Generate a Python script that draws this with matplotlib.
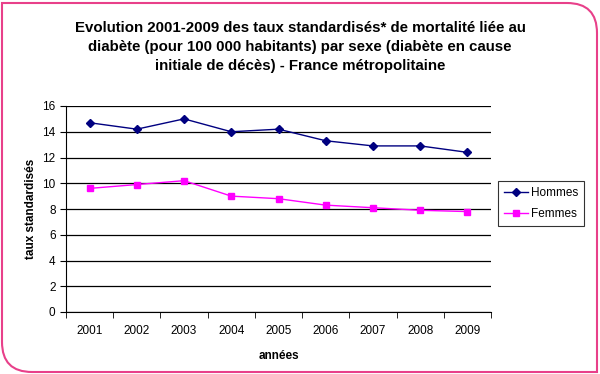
import matplotlib.pyplot as plt
from matplotlib.path import Path
from matplotlib.patches import PathPatch

# data
annees = ['2001', '2002', '2003', '2004', '2005', '2006', '2007', '2008', '2009']
hommes = [14.7, 14.2, 15.0, 14.0, 14.2, 13.3, 12.9, 12.9, 12.4]
femmes = [9.6, 9.9, 10.2, 9.0, 8.8, 8.3, 8.1, 7.9, 7.8]

plt.rcParams['font.family'] = ['Liberation Sans', 'DejaVu Sans']

fig = plt.figure(figsize=(6, 3.74), dpi=100)
ax = fig.add_axes([66/600, 1-312/374, 425/600, 206/374])

# pink frame, rounded top-right and bottom-left corners
x0, y0, x1, y1 = 2/600, 2/374, 597/600, 371/374
rx, ry = 30/600, 30/374
verts = [(x0, y1), (x1 - rx, y1), (x1, y1), (x1, y1 - ry),
         (x1, y0), (x0 + rx, y0), (x0, y0), (x0, y0 + ry), (x0, y1)]
codes = [Path.MOVETO, Path.LINETO, Path.CURVE3, Path.CURVE3,
         Path.LINETO, Path.LINETO, Path.CURVE3, Path.CURVE3, Path.CLOSEPOLY]
fig.patches.append(PathPatch(Path(verts, codes), transform=fig.transFigure,
                             facecolor='white', edgecolor='#e8408a', lw=1.5, zorder=-10))

x = range(len(annees))
ax.plot(x, hommes, color='#000080', marker='D', markersize=3.8, lw=1, label='Hommes')
ax.plot(x, femmes, color='#ff00ff', marker='s', markersize=4.8, lw=1, label='Femmes')

ax.set_xlim(-0.5, len(annees) - 0.5)
ax.set_ylim(0, 16)
ax.set_yticks(range(0, 17, 2))
ax.set_xticks(x)
ax.set_xticklabels(annees)
ax.set_xticks([i - 0.5 for i in range(len(annees) + 1)], minor=True)
ax.tick_params(axis='x', which='major', length=0, pad=9, labelsize=8.5)
ax.tick_params(axis='x', which='minor', length=4, direction='out')
ax.tick_params(axis='y', length=4, direction='out', labelsize=8.5)
ax.yaxis.grid(True, color='black', lw=0.9)
ax.set_axisbelow(True)
for s in ['top', 'right']:
    ax.spines[s].set_visible(False)

ax.set_xlabel('années', fontsize=8.5, fontweight='bold', labelpad=10)
ax.set_ylabel('taux standardisés', fontsize=8.5, fontweight='bold', labelpad=4)

fig.text(0.5, 0.875, 'Evolution 2001-2009 des taux standardisés* de mortalité liée au\n'
         'diabète (pour 100 000 habitants) par sexe (diabète en cause\n'
         'initiale de décès) - France métropolitaine',
         ha='center', va='center', fontsize=10.8, fontweight='bold', linespacing=1.45)

leg = fig.legend(loc='upper left', bbox_to_anchor=(498/600, 1-181/374), fontsize=8.5,
                 frameon=True, fancybox=False, edgecolor='black', handlelength=2.0,
                 handletextpad=0.3, borderpad=0.5, labelspacing=0.8, borderaxespad=0)
leg.get_frame().set_linewidth(0.8)

fig.savefig('out.png', dpi=100)
